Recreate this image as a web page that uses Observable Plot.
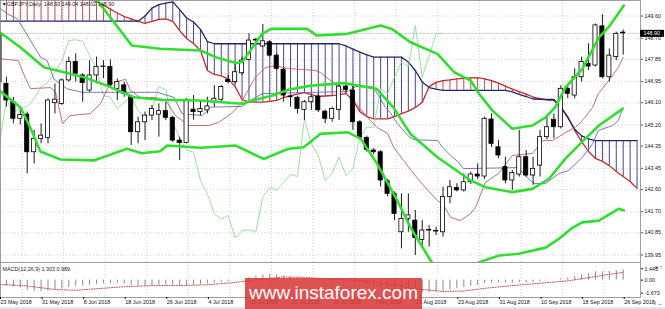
<!DOCTYPE html>
<html><head><meta charset="utf-8">
<script src="https://cdn.jsdelivr.net/npm/d3@7"></script>
<script src="https://cdn.jsdelivr.net/npm/@observablehq/plot@0.6"></script>
<style>
body{margin:0;background:#fff;}
#wrap{position:relative;width:665px;height:309px;overflow:hidden;background:#fff;font-family:"Liberation Sans",Arial,sans-serif;}
#wrap svg{position:absolute;left:0;overflow:hidden;}
#wm{position:absolute;left:245px;top:278px;width:177px;height:31px;background:rgba(218,58,58,0.88);color:#fff;font:19px "Liberation Sans",Arial,sans-serif;line-height:29px;text-align:center;}
#strip{position:absolute;left:0;top:307px;width:665px;height:2px;background:#dfe8f2;}
</style></head>
<body><div id="wrap"><div id="strip"></div></div>
<script>
const titleText = "▼GBPJPY,Daily  148.93 149.04 148.02 148.90";
const macdTitle = "MACD(12,26,9) 1.303 0.989";
const watermark = "www.instaforex.com";
const bidPrice = 148.90;
const priceTicks = [149.60,148.70,147.85,146.95,146.10,145.20,144.35,143.45,142.60,141.70,140.85,139.95];
const macdTicks = [1.445,0,-1.673];
const dateIdx = [0,6,12,18,24,30,36,42,48,54,60,66,72,78,84,90];
const dateLabels = ["23 May 2018","31 May 2018","8 Jun 2018","18 Jun 2018","26 Jun 2018","4 Jul 2018","12 Jul 2018","20 Jul 2018","30 Jul 2018","7 Aug 2018","15 Aug 2018","23 Aug 2018","31 Aug 2018","10 Sep 2018","18 Sep 2018","26 Sep 2018"];
const gridBars = [3.25,9.25,15.25,21.25,27.25,33.25,39.25,45.25,51.25,57.25,63.25,69.25,75.25,81.25,87.25];

const opens  = [148.88,146.86,146.12,145.45,145.62,144.10,144.64,144.68,146.08,146.05,147.00,147.74,147.20,146.59,147.20,147.54,147.54,146.66,146.80,146.32,144.91,145.31,145.58,145.62,145.76,145.49,144.57,144.47,145.82,145.72,145.79,146.12,146.22,147.02,146.93,147.29,147.83,148.61,148.37,148.54,148.00,147.43,146.35,146.30,145.81,146.12,146.35,145.74,145.45,145.81,146.75,146.59,145.31,144.68,144.17,144.10,142.93,142.42,140.87,141.41,141.34,140.56,140.94,140.92,140.87,142.29,142.66,142.56,142.89,143.20,143.12,145.42,144.30,143.50,142.96,143.20,143.90,143.16,143.56,144.71,145.41,145.11,146.66,146.39,147.13,147.67,147.60,149.18,147.13,147.94,148.93];
const highs  = [148.95,147.13,146.32,145.85,145.72,144.98,145.24,146.25,146.86,147.06,147.94,148.07,147.27,147.80,147.94,147.80,147.83,147.06,146.93,146.39,145.52,145.72,145.99,146.05,146.12,145.55,144.71,146.26,146.39,146.19,146.32,146.79,146.79,147.20,147.67,147.94,148.88,148.70,149.26,148.61,148.07,147.50,146.39,146.36,146.19,146.40,146.45,145.80,145.92,146.80,146.79,146.79,145.38,144.75,144.25,144.17,143.00,142.50,142.42,142.42,141.75,141.34,141.14,141.07,142.69,142.96,142.83,143.23,143.30,143.63,145.52,145.65,144.57,143.90,143.36,144.98,144.17,143.90,144.98,145.52,145.65,146.79,146.79,147.47,147.94,148.48,149.28,149.66,148.27,148.95,149.04];
const lows   = [146.00,145.92,145.25,145.20,143.23,143.63,144.44,144.44,145.65,145.99,146.93,146.93,146.12,146.52,146.86,147.07,146.73,146.19,146.32,144.37,144.44,144.57,145.38,144.71,145.38,144.50,143.77,144.44,145.40,145.58,145.65,145.92,146.12,146.86,146.86,147.20,147.80,148.45,148.34,147.94,147.40,146.12,145.92,145.65,145.38,145.79,145.70,145.25,145.31,145.38,146.50,144.98,144.60,144.10,144.00,142.69,142.30,141.34,140.20,140.87,139.93,140.20,140.27,140.74,140.67,142.02,142.50,142.49,142.80,143.00,143.00,144.30,143.85,142.83,142.56,143.10,143.09,142.76,143.10,144.60,144.64,145.04,146.26,146.26,146.93,147.40,147.54,147.06,146.93,147.80,148.02];
const closes = [146.93,146.19,145.45,145.60,144.10,144.64,144.77,146.19,146.22,147.00,147.74,147.27,146.89,147.20,147.54,147.56,146.80,146.93,146.46,144.91,145.31,145.58,145.85,145.76,145.49,144.57,144.47,146.22,145.72,145.85,145.95,146.26,146.73,146.93,147.33,147.80,148.61,148.64,148.58,148.00,147.47,146.39,146.32,145.85,146.12,146.32,145.79,145.45,145.85,146.75,146.62,145.31,144.68,144.20,144.10,142.96,142.42,141.61,141.41,141.55,140.64,140.94,140.96,140.90,142.29,142.69,142.56,142.89,143.20,143.12,145.45,144.44,143.97,142.96,143.26,143.90,143.16,143.43,144.71,145.11,145.11,146.66,146.46,147.13,147.74,147.56,149.22,147.13,148.00,148.88,148.90];

const bbUpper = [[0,151.28],[5.9,151.11],[10.2,150.71],[14.1,150.23],[19.1,148.41],[23.2,148.28],[29.0,148.21],[31.2,147.94],[34.1,147.70],[35.0,147.74],[36.2,148.21],[37.9,148.88],[39.2,149.08],[44.4,149.08],[45.8,148.81],[50.2,148.88],[55.0,149.22],[56.6,149.08],[59.3,148.54],[63.2,148.07],[65.6,147.33],[68.0,146.99],[69.2,146.46],[71.1,145.79],[74.0,145.05],[76.9,145.18],[78.8,145.51],[80.2,145.92],[81.7,146.73],[84.1,147.47],[86.5,148.74],[87.9,149.15],[90.1,150.02]];
const bbMiddle = [[0,148.95],[3.0,148.34],[6.4,147.53],[12.2,147.13],[15.5,146.79],[19.4,146.32],[23.2,146.22],[29.0,146.19],[32.1,146.12],[35.0,146.06],[36.9,146.22],[39.4,146.39],[41.7,146.62],[44.9,146.79],[49.7,146.89],[54.4,146.66],[56.8,145.92],[59.3,144.84],[63.2,143.90],[68.0,142.96],[70.1,142.69],[74.0,142.49],[76.9,142.62],[79.3,143.03],[81.7,143.85],[84.1,144.53],[86.5,145.18],[89.9,145.85]];
const bbLower = [[0,146.59],[3.0,145.92],[4.5,145.06],[5.9,144.13],[8.8,143.81],[13.6,143.77],[18.4,144.24],[20.5,144.06],[23.2,144.14],[24.2,144.37],[29.0,144.28],[31.9,144.33],[34.1,144.37],[38.1,143.83],[41.7,144.24],[43.9,144.30],[46.3,144.84],[50.2,144.91],[52.1,144.65],[54.5,143.63],[57.4,142.15],[59.3,141.07],[62.2,139.73],[64.4,139.00],[66.5,138.92],[69.2,139.66],[72.1,139.93],[74.9,140.00],[78.8,140.25],[80.7,140.60],[82.7,141.06],[84.1,141.27],[86.5,141.34],[89.4,141.82],[90.1,141.75]];
const tenkan = [[0,147.88],[2.7,147.80],[3.75,147.08],[4.5,146.67],[7.4,146.71],[8.1,146.51],[9.1,145.26],[10.2,145.58],[13.1,145.66],[14.6,146.07],[15.6,146.67],[16.4,146.92],[18.2,147.04],[18.9,146.59],[20.3,146.31],[22.5,146.31],[24.0,146.19],[25.4,145.58],[27.3,145.18],[30.2,145.18],[31.6,145.30],[33.6,145.70],[34.8,146.07],[36.9,147.12],[38.4,147.52],[39.8,147.60],[41.7,147.48],[45.6,147.40],[46.3,147.32],[47.8,146.99],[49.6,146.59],[51.1,146.19],[53.1,145.50],[54.5,145.10],[56.0,144.86],[56.9,144.29],[58.3,143.77],[60.3,143.05],[61.8,142.56],[63.2,142.15],[64.1,141.95],[65.1,141.47],[66.5,141.34],[68.0,141.63],[68.7,141.87],[70.1,142.88],[72.0,143.24],[74.0,143.97],[76.9,144.05],[78.4,144.57],[79.8,144.57],[81.7,144.90],[83.1,145.10],[84.1,145.38],[85.6,145.91],[86.4,146.47],[87.9,146.99],[89.3,147.52],[90.0,147.93]];
const kijun = [[0.14,149.90],[1.11,149.69],[2.55,149.49],[3.75,148.95],[5.92,147.94],[6.88,147.80],[7.84,147.06],[9.77,146.66],[11.93,146.52],[22.76,146.52],[25.15,146.32],[26.36,145.65],[29.25,145.58],[30.45,145.92],[35.02,145.95],[36.2,146.19],[37.95,146.47],[50.17,146.55],[51.4,146.75],[53.8,146.75],[54.7,146.39],[55.7,145.91],[56.4,145.70],[57.4,145.26],[58.9,144.78],[59.7,144.61],[63.2,144.57],[64.1,144.25],[65.1,143.97],[66.1,143.73],[66.96,143.44],[74.9,143.48],[75.6,143.24],[77.06,142.84],[78.8,142.84],[80.7,143.24],[82.1,143.36],[84.1,143.89],[85.6,144.45],[86.4,144.98],[88.5,145.18],[89.3,145.38],[90.0,145.91]];
const spanA = [150.75,150.75,150.74,150.72,150.70,150.68,150.65,150.60,150.55,150.50,150.45,150.38,150.32,150.26,150.19,150.04,149.88,149.72,149.58,149.48,149.38,149.30,149.38,149.46,149.48,149.38,149.01,148.69,148.49,148.21,147.40,147.24,147.18,147.06,146.75,146.23,146.12,146.12,146.12,146.15,146.19,146.31,146.39,146.45,146.51,146.43,146.35,146.37,146.39,146.43,146.47,146.19,145.74,145.54,145.45,145.45,145.45,145.54,145.66,145.76,145.91,146.11,146.75,146.92,146.99,147.02,147.06,147.08,147.10,147.11,147.06,146.99,146.89,146.77,146.65,146.55,146.45,146.33,146.26,146.21,146.19,145.92,145.54,144.98,144.53,144.13,143.85,143.73,143.56,143.32,143.12,142.92,142.64];
const spanB = [149.39,149.39,149.39,149.39,149.39,149.39,149.39,149.39,149.39,149.39,149.39,149.39,149.39,149.39,149.39,149.39,149.39,149.39,149.39,149.39,149.39,149.60,149.92,150.06,150.12,150.17,149.86,149.52,149.36,149.06,148.57,148.48,148.48,148.48,148.48,148.48,148.48,148.48,148.48,148.48,148.48,148.48,148.48,148.48,148.48,148.48,148.48,148.48,148.48,148.48,148.39,148.26,148.14,148.03,147.94,147.94,147.94,147.94,147.94,147.74,147.40,146.94,146.71,146.65,146.60,146.60,146.60,146.60,146.60,146.60,146.60,146.60,146.60,146.60,146.54,146.44,146.35,146.25,146.24,146.23,146.23,145.92,145.50,145.03,144.76,144.64,144.57,144.57,144.57,144.57,144.57,144.57,144.57];
const macdMain = [-0.6,-0.75,-0.9,-1.0,-1.3,-1.45,-1.5,-1.4,-1.3,-1.15,-0.95,-0.8,-0.75,-0.65,-0.55,-0.45,-0.45,-0.45,-0.5,-0.7,-0.75,-0.75,-0.7,-0.65,-0.65,-0.75,-0.85,-0.7,-0.65,-0.6,-0.5,-0.4,-0.3,-0.2,-0.1,0.05,0.3,0.5,0.65,0.7,0.65,0.5,0.35,0.2,0.1,0.05,0.0,-0.1,-0.15,-0.05,0.0,-0.15,-0.35,-0.55,-0.7,-0.95,-1.2,-1.4,-1.5,-1.55,-1.65,-1.65,-1.6,-1.55,-1.4,-1.25,-1.1,-0.95,-0.8,-0.7,-0.45,-0.35,-0.35,-0.4,-0.4,-0.35,-0.35,-0.3,-0.2,-0.1,0.0,0.2,0.3,0.45,0.65,0.8,1.05,1.05,1.1,1.2,1.303];
const macdSignal = [[0,-0.55],[4,-0.75],[8,-1.2],[11,-1.3],[14,-1.1],[18,-0.85],[22,-0.7],[26,-0.7],[30,-0.6],[34,-0.3],[38,0.15],[41,0.4],[44,0.35],[48,0.1],[52,-0.05],[56,-0.5],[60,-1.1],[64,-1.45],[67,-1.4],[70,-1.05],[74,-0.7],[78,-0.4],[82,-0.1],[86,0.45],[90,0.99]];

// tables built from the arrays
const candles = opens.map((o,i)=>({i,o,h:highs[i],l:lows[i],c:closes[i]}));
const cloud = spanA.map((a,i)=>({i,a,b:spanB[i]}));
const chikou = closes.slice(26).map((c,k)=>({i:k,v:c}));
const macdRows = macdMain.map((v,i)=>({i,v}));
const pts = arr => arr.map(([i,v])=>({i,v}));

const pxPerBar = 6.93;
const xDomain = [1/pxPerBar, 641/pxPerBar];
const font = "Liberation Sans, Arial, sans-serif";
const GREEN = "#30de30", RED = "#c62a2a", NAVY = "#24246e";

const main = Plot.plot({
  width: 665, height: 262,
  marginLeft: 0, marginRight: 25, marginTop: 0, marginBottom: 0,
  x: {domain: xDomain, axis: null},
  y: {domain: [139.649, 150.226], axis: null},
  color: {type: "identity"},
  style: {fontFamily: font, fontSize: "5.4px", background: "transparent", color: "#111"},
  marks: [
    Plot.ruleY(priceTicks, {stroke: "#c4c4c4", strokeDasharray: "1,2", strokeWidth: 0.8}),
    Plot.ruleX(gridBars, {stroke: "#c4c4c4", strokeDasharray: "1,2", strokeWidth: 0.8}),
    Plot.ruleY([bidPrice], {stroke: "#c8c8c8", strokeWidth: 0.8}),
    Plot.ruleX(cloud, {x: "i", y1: "a", y2: "b", stroke: d => d.a > d.b ? "#b23c3c" : "#33337f", strokeWidth: 0.9, clip: true}),
    Plot.line(cloud, {x: "i", y: "a", stroke: RED, strokeWidth: 1.3, clip: true}),
    Plot.line(cloud, {x: "i", y: "b", stroke: NAVY, strokeWidth: 1.3, clip: true}),
    Plot.line(chikou, {x: "i", y: "v", stroke: "#8fe08f", strokeWidth: 0.9, clip: true}),
    Plot.line(pts(kijun), {x: "i", y: "v", stroke: "#6a6ab8", strokeWidth: 0.9, clip: true}),
    Plot.line(pts(tenkan), {x: "i", y: "v", stroke: "#c06060", strokeWidth: 0.9, clip: true}),
    Plot.ruleX(candles, {x: "i", y1: "l", y2: "h", stroke: "#000", strokeWidth: 0.9, clip: true}),
    Plot.rect(candles, {x1: d => d.i - 0.3, x2: d => d.i + 0.3, y1: "o", y2: "c", fill: d => d.c >= d.o ? "#fff" : "#000", stroke: "#000", strokeWidth: 0.8, clip: true}),
    Plot.line(pts(bbUpper), {x: "i", y: "v", stroke: GREEN, strokeWidth: 2.6, clip: true}),
    Plot.line(pts(bbMiddle), {x: "i", y: "v", stroke: GREEN, strokeWidth: 2.6, clip: true}),
    Plot.line(pts(bbLower), {x: "i", y: "v", stroke: GREEN, strokeWidth: 2.6, clip: true}),
    Plot.frame({stroke: "#888", strokeWidth: 0.8}),
    Plot.axisY({anchor: "right", ticks: priceTicks, tickFormat: d => d.toFixed(2), tickSize: 2, tickPadding: 2, fontSize: 5.4, stroke: "#555"}),
    Plot.ruleY([bidPrice], {x1: xDomain[1], x2: xDomain[1] + 24/pxPerBar, stroke: "#000", strokeWidth: 7}),
    Plot.text([bidPrice], {x: xDomain[1], y: d => d, text: d => d.toFixed(2), textAnchor: "start", dx: 3, fill: "#fff", fontSize: 5.4}),
    Plot.text([titleText], {frameAnchor: "top-left", dx: 1, dy: 2, lineAnchor: "top", textAnchor: "start", fill: "#222", fontSize: 5.4})
  ]
});

const macd = Plot.plot({
  width: 665, height: 45,
  marginLeft: 0, marginRight: 25, marginTop: 0, marginBottom: 10,
  x: {domain: xDomain, axis: null},
  y: {domain: [-2.222, 2.248], axis: null},
  style: {fontFamily: font, fontSize: "5.4px", background: "transparent", color: "#111"},
  marks: [
    Plot.ruleX(gridBars, {stroke: "#c4c4c4", strokeDasharray: "1,2", strokeWidth: 0.8}),
    Plot.ruleX(macdRows, {x: "i", y1: 0, y2: "v", stroke: "#8a8a8a", strokeWidth: 1, clip: true}),
    Plot.line(pts(macdSignal), {x: "i", y: "v", stroke: "#c04f4f", strokeWidth: 1, strokeDasharray: "1,1.5", clip: true}),
    Plot.frame({stroke: "#888", strokeWidth: 0.8}),
    Plot.axisY({anchor: "right", ticks: macdTicks, tickFormat: d => d === 0 ? "0.00" : String(d), tickSize: 2, tickPadding: 2, fontSize: 5.4}),
    Plot.axisX({anchor: "bottom", ticks: dateIdx, tickFormat: d => dateLabels[dateIdx.indexOf(d)], textAnchor: "start", tickSize: 2, tickPadding: 1, dx: 1, fontSize: 5.4}),
    Plot.text([macdTitle], {frameAnchor: "top-left", dx: 2, dy: 5, lineAnchor: "top", textAnchor: "start", fill: "#222", fontSize: 5.4})
  ]
});

const wrap = document.getElementById("wrap");
main.style.top = "0px";
macd.style.top = "262px";
wrap.appendChild(main);
wrap.appendChild(macd);
const wm = document.createElement("div");
wm.id = "wm";
wm.textContent = watermark;
wrap.appendChild(wm);
</script>
</body></html>
